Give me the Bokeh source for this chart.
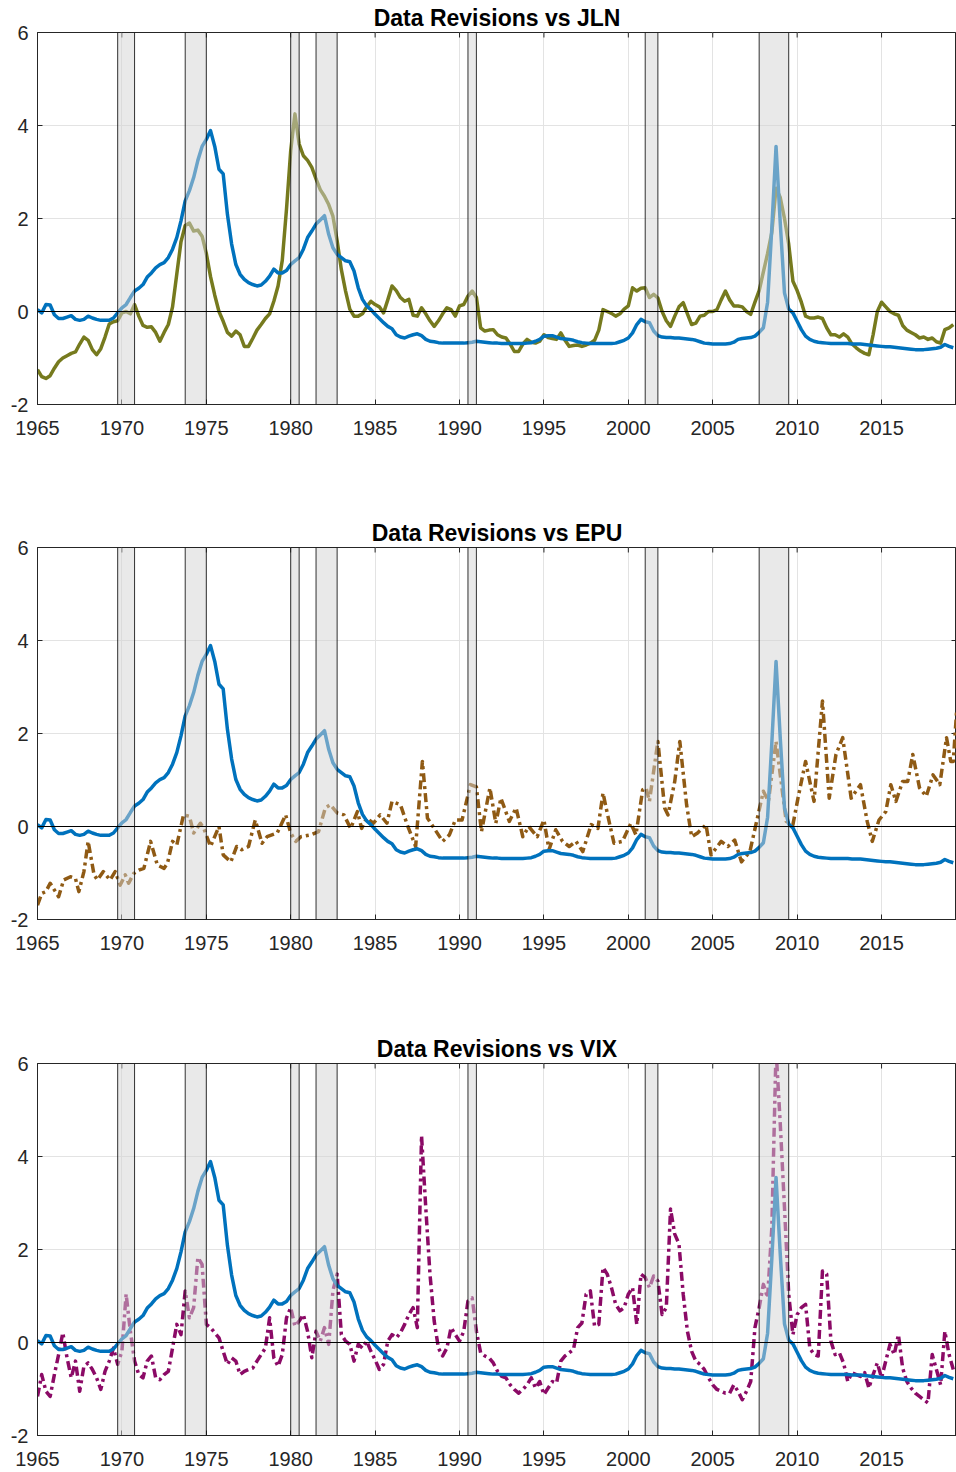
import numpy as np
from bokeh.plotting import figure
from bokeh.models import Range1d, Span, BoxAnnotation, FixedTicker
from bokeh.layouts import column
from bokeh.embed import file_html
from bokeh.resources import INLINE

# ---------------- data (quarterly, starting 1965Q1) ----------------
revisions = [
    0.04, -0.03, 0.15, 0.14,   -0.07, -0.15, -0.15, -0.12,   -0.09, -0.17, -0.19, -0.17,
    -0.10, -0.14, -0.17, -0.19, -0.19, -0.19, -0.14, -0.03,   0.08, 0.15, 0.30, 0.44,
    0.50, 0.58, 0.74, 0.83,     0.94, 1.01, 1.05, 1.16,       1.34, 1.59, 1.95, 2.38,
    2.60, 2.88, 3.25, 3.55,     3.70, 3.89, 3.55, 3.06,       2.96, 2.09, 1.45, 1.01,
    0.80, 0.69, 0.62, 0.58,     0.55, 0.57, 0.65, 0.76,       0.91, 0.83, 0.83, 0.88,
    1.01, 1.09, 1.16, 1.34,     1.59, 1.73, 1.88, 1.97,       2.06, 1.66, 1.37, 1.23,
    1.16, 1.09, 1.07, 0.87,     0.51, 0.26, 0.12, 0.04,       -0.06, -0.15, -0.24, -0.32,
    -0.37, -0.50, -0.55, -0.57, -0.53, -0.50, -0.48, -0.52,   -0.60, -0.64, -0.65, -0.67,
    -0.68, -0.68, -0.68, -0.68, -0.68, -0.68, -0.67, -0.66,   -0.64, -0.65, -0.66, -0.67,
    -0.68, -0.68, -0.69, -0.69, -0.69, -0.69, -0.69, -0.69,   -0.68, -0.67, -0.64, -0.60,
    -0.53, -0.52, -0.52, -0.55, -0.58, -0.59, -0.60, -0.62,   -0.65, -0.67, -0.68, -0.69,
    -0.69, -0.69, -0.69, -0.69, -0.69, -0.68, -0.65, -0.62,   -0.57, -0.46, -0.28, -0.17,
    -0.22, -0.24, -0.42, -0.52, -0.55, -0.56, -0.56, -0.57,   -0.57, -0.58, -0.59, -0.60,
    -0.62, -0.65, -0.68, -0.69, -0.70, -0.70, -0.70, -0.70,   -0.69, -0.66, -0.60, -0.58,
    -0.57, -0.56, -0.53, -0.45, -0.35, 0.20, 1.80, 3.55,      1.90, 0.40, 0.05, -0.03,
    -0.21, -0.39, -0.53, -0.60, -0.64, -0.66, -0.67, -0.68,   -0.69, -0.69, -0.69, -0.69,
    -0.69, -0.70, -0.70, -0.70, -0.71, -0.72, -0.73, -0.74,   -0.75, -0.76, -0.76, -0.77,
    -0.78, -0.79, -0.80, -0.81, -0.82, -0.82, -0.82, -0.81,   -0.80, -0.79, -0.77, -0.71,
    -0.75, -0.78,
]

jln = [
    -1.25, -1.40, -1.44, -1.38, -1.22, -1.08, -1.00, -0.95,   -0.90, -0.87, -0.70, -0.55,
    -0.62, -0.82, -0.93, -0.80, -0.55, -0.27, -0.22, -0.20,   -0.03, 0.00, -0.05, 0.15,
    -0.10, -0.30, -0.34, -0.33, -0.45, -0.64, -0.45, -0.28,   0.10, 0.80, 1.50, 1.85,
    1.90, 1.73, 1.75, 1.62,     1.25, 0.75, 0.35, 0.00,       -0.21, -0.45, -0.53, -0.42,
    -0.50, -0.75, -0.75, -0.58, -0.40, -0.28, -0.15, -0.05,   0.22, 0.55, 1.10, 2.20,
    3.46, 4.25, 3.60, 3.35,     3.25, 3.10, 2.85, 2.62,       2.48, 2.30, 2.05, 1.52,
    0.90, 0.44, 0.05, -0.10,    -0.10, -0.05, 0.10, 0.22,     0.15, 0.10, -0.03, 0.25,
    0.55, 0.45, 0.30, 0.22,     0.26, -0.08, -0.10, 0.08,     -0.05, -0.20, -0.32, -0.20,
    -0.05, 0.08, 0.04, -0.10,   0.12, 0.15, 0.33, 0.44,       0.30, -0.35, -0.42, -0.40,
    -0.39, -0.50, -0.55, -0.57, -0.70, -0.86, -0.86, -0.70,   -0.60, -0.66, -0.68, -0.64,
    -0.50, -0.56, -0.58, -0.60, -0.46, -0.62, -0.75, -0.73,   -0.72, -0.75, -0.72, -0.68,
    -0.62, -0.40, 0.04, 0.00,   -0.04, -0.10, -0.05, 0.05,    0.12, 0.51, 0.44, 0.50,
    0.51, 0.30, 0.37, 0.29,     0.00, -0.20, -0.32, -0.10,    0.10, 0.19, -0.05, -0.28,
    -0.25, -0.10, -0.08, 0.00,  0.00, 0.04, 0.25, 0.44,       0.25, 0.12, 0.12, 0.10,
    0.00, -0.06, 0.20, 0.45,    0.85, 1.25, 1.70, 2.65,       2.45, 2.00, 1.45, 0.65,
    0.45, 0.20, -0.10, -0.14,   -0.14, -0.12, -0.15, -0.35,   -0.50, -0.50, -0.55, -0.48,
    -0.55, -0.70, -0.78, -0.85, -0.90, -0.93, -0.50, 0.00,    0.20, 0.10, 0.00, -0.05,
    -0.08, -0.30, -0.40, -0.45, -0.50, -0.57, -0.55, -0.60,   -0.57, -0.65, -0.68, -0.39,
    -0.35, -0.28,
]

vix = [
    -1.16, -0.69, -1.05, -1.16, -0.69, -0.26, 0.21, -0.33,    -0.76, -0.40, -1.05, -0.51,
    -0.44, -0.58, -0.76, -1.01, -0.62, -0.40, -0.12, -0.47,   -0.19, 1.04, 0.24, -0.40,
    -0.69, -0.76, -0.40, -0.29, -0.76, -0.80, -0.69, -0.62,   -0.12, 0.39, 0.17, 1.11,
    0.53, 0.75, 1.83, 1.68,     0.39, 0.32, 0.21, 0.10,       -0.19, -0.47, -0.33, -0.40,
    -0.69, -0.62, -0.58, -0.55, -0.40, -0.26, -0.12, 0.53,    -0.33, -0.51, -0.26, 0.53,
    0.75, 0.35, 0.46, 0.60,     0.24, -0.33, 0.24, 0.03,      0.32, -0.04, 1.11, 1.47,
    0.17, 0.03, -0.04, -0.40,   -0.04, -0.12, 0.03, -0.19,    -0.37, -0.58, -0.47, 0.03,
    0.17, 0.10, 0.21, 0.39,     0.60, 0.75, 0.32, 4.45,       2.90, 1.47, 0.46, -0.12,
    -0.29, -0.12, 0.32, 0.17,   0.03, 0.24, 0.89, 0.96,       0.24, -0.22, -0.29, -0.33,
    -0.44, -0.62, -0.73, -0.76, -0.91, -1.01, -1.09, -1.01,   -0.91, -0.76, -0.98, -0.84,
    -1.12, -0.98, -0.84, -0.87, -0.40, -0.29, -0.22, -0.15,   0.32, 0.42, 1.04, 1.11,
    0.35, 0.39, 1.61, 1.47,     1.18, 0.82, 0.68, 0.75,       1.04, 1.18, 0.39, 1.47,
    1.40, 1.18, 1.43, 1.32,     0.60, 0.75, 2.87, 2.33,       2.12, 1.04, 0.24, -0.19,
    -0.40, -0.47, -0.58, -0.76, -0.91, -1.01, -1.05, -1.09,   -1.09, -0.91, -1.05, -1.23,
    -1.05, -0.84, 0.32, 0.75,   1.25, 0.96, 2.47, 6.30,       4.70, 2.90, 1.04, 0.17,
    0.60, 0.75, 0.82, -0.12,    -0.26, -0.29, 1.54, 1.47,     0.03, -0.26, -0.22, -0.44,
    -0.84, -0.65, -0.69, -0.73, -0.65, -0.98, -0.69, -0.44,   -0.76, -0.40, -0.04, -0.26,
    0.17, -0.55, -0.84, -0.98,  -1.09, -1.16, -1.23, -1.30,   -0.26, -0.58, -0.91, 0.24,
    -0.26, -0.58,
]

epu_year = [
    1965.0, 1965.25, 1965.5, 1965.75, 1966.25, 1966.55, 1966.95, 1967.25, 1967.45, 1967.75,
    1968.0, 1968.35, 1968.55, 1968.9, 1969.3, 1969.6, 1969.9, 1970.2, 1970.4, 1970.7,
    1971.0, 1971.3, 1971.7, 1972.1, 1972.5, 1972.7, 1973.0, 1973.25, 1973.65, 1974.0,
    1974.25, 1974.65, 1974.85, 1975.25, 1975.75, 1976.0, 1976.45, 1976.8, 1977.1, 1977.5,
    1977.9, 1978.3, 1978.6, 1979.2, 1979.7, 1980.0, 1980.3, 1980.6, 1981.2, 1981.65,
    1982.05, 1982.35, 1982.75, 1983.15, 1983.55, 1983.95, 1984.2, 1984.5, 1984.9, 1985.3,
    1985.7, 1986.0, 1986.5, 1986.9, 1987.4, 1987.8, 1988.1, 1988.5, 1989.0, 1989.4,
    1989.75, 1990.15, 1990.65, 1991.0, 1991.3, 1991.8, 1992.15, 1992.45, 1992.95, 1993.35,
    1993.75, 1994.1, 1994.6, 1995.0, 1995.3, 1995.7, 1996.1, 1996.5, 1996.9, 1997.3,
    1997.8, 1998.2, 1998.5, 1998.75, 1999.15, 1999.65, 2000.15, 2000.45, 2000.85, 2001.05,
    2001.25, 2001.75, 2002.15, 2002.35, 2002.75, 2003.05, 2003.45, 2003.75, 2004.1, 2004.6,
    2004.9, 2005.5, 2005.9, 2006.3, 2006.7, 2007.2, 2007.6, 2008.0, 2008.3, 2008.75,
    2009.05, 2009.35, 2009.75, 2010.05, 2010.5, 2011.0, 2011.5, 2011.9, 2012.3, 2012.7,
    2013.2, 2013.75, 2014.15, 2014.45, 2014.85, 2015.25, 2015.55, 2015.85, 2016.25, 2016.55,
    2016.85, 2017.25, 2017.65, 2018.05, 2018.45, 2018.85, 2019.1, 2019.25, 2019.45,
]
epu_val = [
    -1.69, -1.44, -1.40, -1.22, -1.51, -1.15, -1.08, -1.12, -1.40, -0.97,
    -0.32, -1.04, -1.15, -0.97, -1.15, -0.97, -1.26, -1.04, -1.22, -1.01,
    -0.94, -0.90, -0.32, -0.83, -0.90, -0.79, -0.32, -0.40, 0.25, 0.22,
    -0.14, 0.07, -0.04, -0.43, 0.00, -0.61, -0.76, -0.43, -0.50, -0.43,
    0.14, -0.36, -0.22, -0.14, 0.25, -0.14, -0.32, -0.22, -0.18, -0.11,
    0.40, 0.47, 0.29, 0.25, -0.04, 0.32, -0.04, 0.18, 0.07, 0.25,
    0.07, 0.54, 0.47, 0.04, -0.43, 1.40, 0.18, -0.04, -0.32, -0.18,
    0.14, 0.14, 0.90, 0.85, -0.11, 0.83, 0.07, 0.61, 0.11, 0.40,
    -0.22, 0.00, -0.22, 0.14, -0.50, -0.07, -0.32, -0.43, -0.32, -0.54,
    0.04, -0.04, 0.72, 0.29, -0.36, -0.32, 0.07, -0.18, 0.79, 0.83,
    0.54, 1.83, 0.40, 0.25, 0.97, 1.83, 0.47, -0.22, -0.14, 0.04,
    -0.61, -0.32, -0.43, -0.29, -0.76, -0.54, 0.11, 0.76, 0.54, 1.83,
    0.97, 0.11, 0.04, 0.61, 1.40, 0.54, 2.70, 0.61, 1.55, 1.91,
    0.61, 0.90, 0.11, -0.32, 0.14, 0.32, 0.90, 0.54, 0.97, 0.97,
    1.55, 0.83, 0.65, 1.11, 0.90, 1.91, 1.40, 1.40, 2.50,
]

rec_start = [1969.75, 1973.75, 1980.0, 1981.5, 1990.5, 2001.0, 2007.75]
rec_end = [1970.75, 1975.0, 1980.5, 1982.75, 1991.0, 2001.75, 2009.5]

x_ticks = [1965, 1970, 1975, 1980, 1985, 1990, 1995, 2000, 2005, 2010, 2015]
y_ticks = [-2, 0, 2, 4, 6]
y_labels = ["-2", "0", "2", "4", "6"]

titles = ["Data Revisions vs JLN", "Data Revisions vs EPU", "Data Revisions vs VIX"]

# ---------------- styling ----------------
X_MIN, X_MAX = 1965, 2019.44
Y_MIN, Y_MAX = -2, 6
FONT = "Liberation Sans"
AX = "#262626"
BLUE = "#0072BD"
OLIVE = "#767a1e"
BROWN = "#8f5a14"
PURPLE = "#8b0a66"
LW = 3.5
DASH = "9 4 3 4"


def q_dates(series):
    return 1965.0 + 0.25 * np.arange(len(series))


def make_panel(title, height, border_bottom):
    p = figure(width=956, height=height, output_backend="svg", toolbar_location=None,
               x_range=Range1d(X_MIN, X_MAX), y_range=Range1d(Y_MIN, Y_MAX),
               min_border_left=37, min_border_right=0, min_border_top=32,
               min_border_bottom=border_bottom, title=title)
    p.title.text_font = FONT
    p.title.text_font_size = "23px"
    p.title.text_font_style = "bold"
    p.title.text_color = "black"
    p.title.align = "center"
    p.title.standoff = 3
    p.title.offset = 0
    p.outline_line_color = AX
    p.outline_line_width = 1
    p.background_fill_color = "white"
    p.border_fill_color = "white"

    for ax in (p.xaxis[0], p.yaxis[0]):
        ax.major_tick_in = 5
        ax.major_tick_out = 0
        ax.minor_tick_line_color = None
        ax.axis_line_color = AX
        ax.major_tick_line_color = AX
        ax.major_label_text_font = FONT
        ax.major_label_text_font_size = "20px"
        ax.major_label_text_color = AX
    p.xaxis.ticker = FixedTicker(ticks=x_ticks)
    p.yaxis.ticker = FixedTicker(ticks=y_ticks)
    p.yaxis.major_label_overrides = dict(zip(y_ticks, y_labels))
    p.xaxis.major_label_standoff = 16
    p.yaxis.major_label_standoff = 9

    for g in (p.xgrid[0], p.ygrid[0]):
        g.grid_line_color = "#e3e3e3"
        g.grid_line_width = 1
    p.xgrid.ticker = FixedTicker(ticks=x_ticks)
    p.ygrid.ticker = FixedTicker(ticks=y_ticks)

    # inward tick marks on the top and right edges of the box
    p.scatter(x_ticks, [Y_MAX] * len(x_ticks), marker="dash", angle=np.pi / 2, size=10,
              line_color=AX, line_width=1)
    p.scatter([X_MAX] * len(y_ticks), y_ticks, marker="dash", size=10,
              line_color=AX, line_width=1)
    return p


def finish_panel(p):
    # blue revisions line on top of the comparison series
    p.line(q_dates(revisions), revisions, line_color=BLUE, line_width=LW, line_join="round")
    for s, e in zip(rec_start, rec_end):
        p.add_layout(BoxAnnotation(left=s, right=e, fill_color="#d4d4d4", fill_alpha=0.5,
                                   line_color="black", line_alpha=0.8, line_width=1))
    p.add_layout(Span(location=0, dimension="width", line_color="black", line_width=1))


p1 = make_panel(titles[0], 515, 111)
p1.line(q_dates(jln), jln, line_color=OLIVE, line_width=LW, line_join="round")
finish_panel(p1)

p2 = make_panel(titles[1], 516, 112)
p2.line(epu_year, epu_val, line_color=BROWN, line_width=LW, line_dash=DASH, line_join="round")
finish_panel(p2)

p3 = make_panel(titles[2], 441, 37)
p3.line(q_dates(vix), vix, line_color=PURPLE, line_width=LW, line_dash=DASH, line_join="round")
finish_panel(p3)

layout = column(p1, p2, p3, spacing=0)
open("out.html", "w").write(file_html(layout, INLINE))
